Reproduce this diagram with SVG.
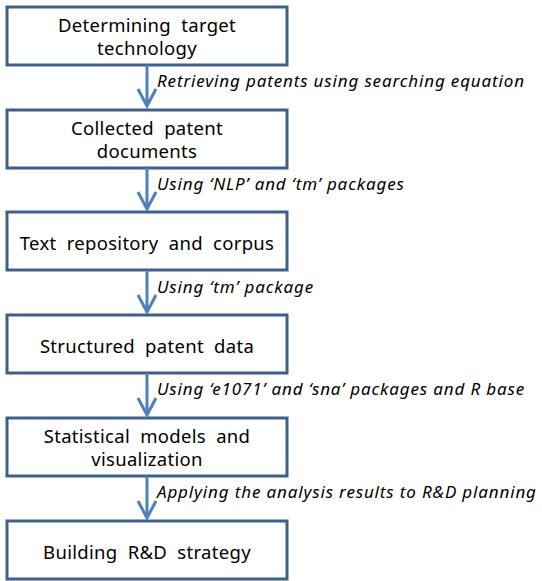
<svg xmlns="http://www.w3.org/2000/svg" width="542" height="581" viewBox="0 0 542 581">
  <style>
    .box { fill: #ffffff; stroke: #3e5f8a; stroke-width: 3; }
    .t { font-family: "Noto Sans", "Open Sans", sans-serif; font-size: 18.5px; letter-spacing: 0.3px; fill: #000000; text-anchor: middle; white-space: pre; }
    .lbl { font-family: "Noto Sans", "Open Sans", sans-serif; font-size: 17px; letter-spacing: 0.85px; font-style: italic; fill: #000000; }
    .con { stroke: #4f81bd; stroke-width: 3; fill: none; }
  </style>
  <rect width="542" height="581" fill="#ffffff"/>

  <!-- process steps -->
  <g id="step1">
    <rect class="box" x="7" y="7" width="280" height="58"/>
    <text class="t" x="147" y="32">Determining  target</text>
    <text class="t" x="147" y="55">technology</text>
  </g>
  <g id="step2">
    <rect class="box" x="7" y="110" width="280" height="58"/>
    <text class="t" x="147" y="135">Collected  patent</text>
    <text class="t" x="147" y="158">documents</text>
  </g>
  <g id="step3">
    <rect class="box" x="7" y="212" width="280" height="58"/>
    <text class="t" x="147" y="250">Text  repository  and  corpus</text>
  </g>
  <g id="step4">
    <rect class="box" x="7" y="315" width="280" height="58"/>
    <text class="t" x="147" y="353">Structured  patent  data</text>
  </g>
  <g id="step5">
    <rect class="box" x="7" y="418" width="280" height="58"/>
    <text class="t" x="147" y="443">Statistical  models  and</text>
    <text class="t" x="147" y="466">visualization</text>
  </g>
  <g id="step6">
    <rect class="box" x="7" y="521" width="280" height="58"/>
    <text class="t" x="147" y="559">Building  R&amp;D  strategy</text>
  </g>

  <!-- connectors with their labels -->
  <g id="connectors">
    <path class="con" d="M147 65 V106 M138 89 L147 106 L156 89"/>
    <path class="con" d="M147 168 V209 M138 192 L147 209 L156 192"/>
    <path class="con" d="M147 270 V312 M138 295 L147 312 L156 295"/>
    <path class="con" d="M147 373 V415 M138 398 L147 415 L156 398"/>
    <path class="con" d="M147 476 V518 M138 501 L147 518 L156 501"/>
    <text class="lbl" x="157" y="87">Retrieving patents using searching equation</text>
    <text class="lbl" x="157" y="190">Using ‘NLP’ and ‘tm’ packages</text>
    <text class="lbl" x="157" y="293">Using ‘tm’ package</text>
    <text class="lbl" x="157" y="395">Using ‘e1071’ and ‘sna’ packages and R base</text>
    <text class="lbl" x="157" y="498">Applying the analysis results to R&amp;D planning</text>
  </g>
</svg>
